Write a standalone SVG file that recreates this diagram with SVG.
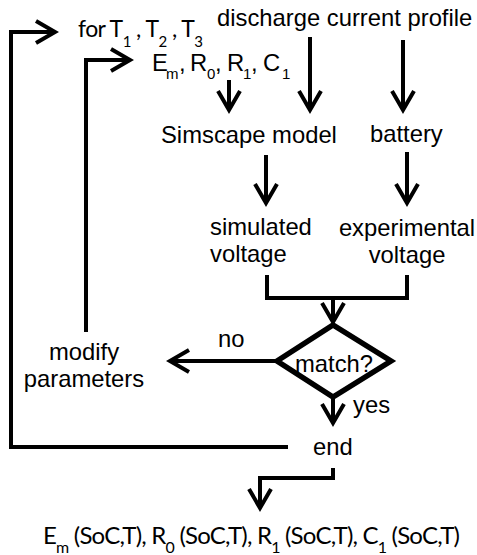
<svg xmlns="http://www.w3.org/2000/svg" width="477" height="555" viewBox="0 0 477 555">
<style>
.t{font-family:"Liberation Sans",Arial,sans-serif;font-size:23.8px;fill:#000}
.s{font-family:"Liberation Sans",Arial,sans-serif;font-size:15px;fill:#000}
.c{font-family:Lato,"Open Sans",sans-serif;font-size:23px;fill:#000}
.cs{font-size:15px}
.b{font-family:Lato,"Open Sans",sans-serif;font-size:24px;fill:#000}
.bs{font-size:16px}
.ln{fill:none;stroke:#000;stroke-width:4;stroke-linejoin:miter}
.ar{marker-end:url(#chev)}
</style>
<defs>
<marker id="chev" markerUnits="userSpaceOnUse" viewBox="-24 -16 28 32" refX="0" refY="0" markerWidth="28" markerHeight="32" orient="auto" overflow="visible">
<path d="M-19,-11 L0,0 L-19,11" fill="none" stroke="#000" stroke-width="4"/>
</marker>
</defs>
<g id="connectors">
<polyline class="ln ar" points="11,449 11,32 55,32"/>
<line class="ln" x1="9" y1="447" x2="288" y2="447"/>
<polyline class="ln ar" points="86,332 86,60 130,60"/>
<line class="ln ar" x1="229" y1="80" x2="229" y2="110"/>
<line class="ln ar" x1="310" y1="37" x2="310" y2="110"/>
<line class="ln ar" x1="403" y1="40" x2="403" y2="110"/>
<line class="ln ar" x1="266" y1="155" x2="266" y2="203"/>
<line class="ln ar" x1="407" y1="152" x2="407" y2="203"/>
<polyline class="ln" points="267,275 267,298 407,298 407,275"/>
<line class="ln ar" x1="333" y1="298" x2="333" y2="322"/>
<line class="ln ar" x1="277" y1="361" x2="170" y2="361"/>
<line class="ln ar" x1="333" y1="398" x2="333" y2="423"/>
<polyline class="ln ar" points="333,468 333,478 260,478 260,508"/>
</g>
<g id="for-loop">
<text class="c" x="78" y="37" textLength="125" lengthAdjust="spacing">for T<tspan class="cs" dy="10">1</tspan><tspan dy="-10"> , T</tspan><tspan class="cs" dy="10">2</tspan><tspan dy="-10"> , T</tspan><tspan class="cs" dy="10">3</tspan></text>
</g>
<g id="params">
<text class="t" x="152" y="71">E</text><text class="s" x="166" y="79">m</text>
<text class="t" x="179" y="71">,</text>
<text class="t" x="190" y="71">R</text><text class="s" x="207" y="79">0</text>
<text class="t" x="215" y="71">,</text>
<text class="t" x="227" y="71">R</text><text class="s" x="243" y="79">1</text>
<text class="t" x="251" y="71">,</text>
<text class="t" x="263" y="71">C</text><text class="s" x="282" y="79">1</text>
</g>
<g id="discharge"><text class="t" x="217" y="26">discharge current profile</text></g>
<g id="simscape"><text class="t" x="161" y="143">Simscape model</text></g>
<g id="battery"><text class="t" x="370" y="142">battery</text></g>
<g id="simulated"><text class="t" x="210" y="235">simulated</text><text class="t" x="210" y="262">voltage</text></g>
<g id="experimental"><text class="t" x="407" y="236" text-anchor="middle">experimental</text><text class="t" x="407" y="263" text-anchor="middle">voltage</text></g>
<g id="match">
<polygon points="277,361 333,325 391,361 333,397" fill="none" stroke="#000" stroke-width="5.5" stroke-linejoin="miter"/>
<text class="t" x="295" y="372">match?</text>
</g>
<g id="modify"><text class="t" x="84" y="360" text-anchor="middle">modify</text><text class="t" x="84" y="387" text-anchor="middle">parameters</text></g>
<g id="labels"><text class="t" x="218" y="347">no</text><text class="t" x="353" y="413">yes</text></g>
<g id="end"><text class="t" x="313" y="455">end</text></g>
<g id="result">
<text class="b" x="43" y="544" textLength="417" lengthAdjust="spacing">E<tspan class="bs" dy="9">m</tspan><tspan dy="-9"> (SoC,T), R</tspan><tspan class="bs" dy="9">0</tspan><tspan dy="-9"> (SoC,T), R</tspan><tspan class="bs" dy="9">1</tspan><tspan dy="-9"> (SoC,T), C</tspan><tspan class="bs" dy="9">1</tspan><tspan dy="-9"> (SoC,T)</tspan></text>
</g>
</svg>
